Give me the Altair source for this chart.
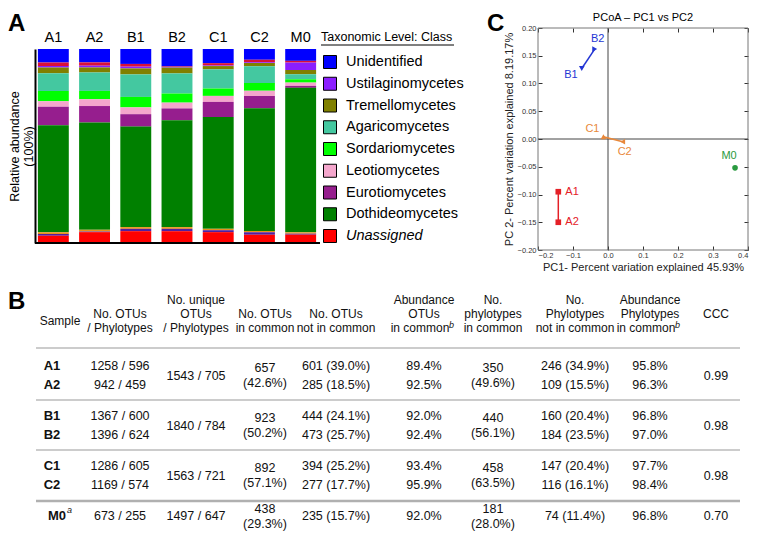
import altair as alt
import pandas as pd

FONT = "Liberation Sans"
W, H = 744, 524

# ---------------- Panel A: relative abundance per class (%) ----------------
samples = ["A1", "A2", "B1", "B2", "C1", "C2", "M0"]
classes = ["Unidentified", "Other (red)", "Ustilaginomycetes", "Tremellomycetes",
           "Agaricomycetes", "Sordariomycetes", "Leotiomycetes", "Eurotiomycetes",
           "Dothideomycetes", "Other (orange)", "Other (dark)", "Unassigned"]
class_colors = ["#0000FF", "#D8103A", "#8B1EFF", "#808000", "#44C8A0", "#00FF00",
                "#F4A6CC", "#961E8E", "#008000", "#E8901A", "#5020A0", "#FF0000"]
abund_A1 = [7.0, 1.8, 0.8, 2.9, 9.2, 5.2, 2.9, 9.6, 55.2, 0.9, 0.8, 3.8]
abund_A2 = [6.9, 1.7, 0.9, 2.6, 9.5, 4.3, 3.5, 8.5, 55.3, 0.9, 0.3, 5.6]
abund_B1 = [7.7, 1.4, 0.9, 3.1, 11.6, 5.4, 3.5, 6.4, 51.8, 0.9, 1.2, 6.1]
abund_B2 = [9.0, 0.3, 0.3, 3.0, 10.4, 4.7, 3.0, 6.1, 55.2, 0.9, 1.2, 6.1]
abund_C1 = [7.3, 1.2, 0.3, 1.7, 9.9, 3.8, 3.1, 7.8, 57.7, 0.7, 1.0, 5.6]
abund_C2 = [5.5, 1.4, 0.3, 1.7, 8.7, 4.0, 2.6, 6.4, 63.3, 0.7, 1.2, 4.3]
abund_M0 = [6.1, 0.9, 3.8, 2.2, 2.6, 1.7, 1.7, 1.0, 74.4, 0.7, 0.5, 4.3]
legend_classes = ["Unidentified", "Ustilaginomycetes", "Tremellomycetes", "Agaricomycetes",
                  "Sordariomycetes", "Leotiomycetes", "Eurotiomycetes", "Dothideomycetes",
                  "Unassigned"]
legend_title = "Taxonomic Level: Class"

# ---------------- Panel C: PCoA coordinates ----------------
pc_samples = ["A1", "A2", "B1", "B2", "C1", "C2", "M0"]
pc_group = ["A", "A", "B", "B", "C", "C", "M"]
pc1 = [-0.142, -0.142, -0.075, -0.038, -0.013, 0.042, 0.363]
pc2 = [-0.095, -0.150, 0.127, 0.162, 0.004, -0.005, -0.052]
pc_groups = ["A", "B", "C", "M"]
pc_group_colors = ["#E42027", "#2436D4", "#E8883A", "#2A9A40"]
pc_shapes = ["square", "square", "triangle-down", "triangle-right", "triangle-up", "triangle-left", "circle"]
pc_xticks = [-0.2, -0.1, 0.0, 0.1, 0.2, 0.3, 0.4]
pc_yticks = [-0.2, -0.15, -0.1, -0.05, 0.0, 0.05, 0.1, 0.15, 0.2]

# ---------------- Panel B: table ----------------
tbl_samples = ["A1", "A2", "B1", "B2", "C1", "C2", "M0"]
otus_phylo = ["1258 / 596", "942 / 459", "1367 / 600", "1396 / 624", "1286 / 605", "1169 / 574", "673 / 255"]
unique_otus_phylo = ["1543 / 705", "1840 / 784", "1563 / 721", "1497 / 647"]
otus_common = ["657\n(42.6%)", "923\n(50.2%)", "892\n(57.1%)", "438\n(29.3%)"]
otus_not_common = ["601 (39.0%)", "285 (18.5%)", "444 (24.1%)", "473 (25.7%)", "394 (25.2%)", "277 (17.7%)", "235 (15.7%)"]
abund_otus_common = ["89.4%", "92.5%", "92.0%", "92.4%", "93.4%", "95.9%", "92.0%"]
phylo_common = ["350\n(49.6%)", "440\n(56.1%)", "458\n(63.5%)", "181\n(28.0%)"]
phylo_not_common = ["246 (34.9%)", "109 (15.5%)", "160 (20.4%)", "184 (23.5%)", "147 (20.4%)", "116 (16.1%)", "74 (11.4%)"]
abund_phylo_common = ["95.8%", "96.3%", "96.8%", "97.0%", "97.7%", "98.4%", "96.8%"]
ccc = ["0.99", "0.98", "0.98", "0.70"]
header_lines = [
    (1, 1.5, "Sample"),
    (2, 1, "No. OTUs"), (2, 2, "/ Phylotypes"),
    (3, 0, "No. unique"), (3, 1, "OTUs"), (3, 2, "/ Phylotypes"),
    (4, 1, "No. OTUs"), (4, 2, "in common"),
    (5, 1, "No. OTUs"), (5, 2, "not in common"),
    (6, 0, "Abundance"), (6, 1, "OTUs"),
    (7, 0, "No."), (7, 1, "phylotypes"), (7, 2, "in common"),
    (8, 0, "No."), (8, 1, "Phylotypes"), (8, 2, "not in common"),
    (9, 0, "Abundance"), (9, 1, "Phylotypes"),
    (10, 1, "CCC"),
]
sup_b_cols = [6, 9]

# ---------------- layout (pixel positions, chart coordinates) ----------------
tbl_col_px = [28, 52, 112, 188, 257, 328, 416, 485, 567, 642, 708, 732]
tbl_slot_px = [292, 306, 320, 340, 358, 377, 392, 408, 427, 442, 458, 477, 493, 508]
row_slots = [4, 5, 7, 8, 10, 11, 13]
group_slots = [4.5, 7.5, 10.5, 13]
rule_slots_thin = [3, 6, 9]
rule_slots_thick = [12]

# =============== Panel A chart ===============
rows = []
abund_all = [abund_A1, abund_A2, abund_B1, abund_B2, abund_C1, abund_C2, abund_M0]
for s, vals in zip(samples, abund_all):
    for i, (c, v) in enumerate(zip(classes, vals)):
        rows.append({"sample": s, "cls": c, "value": v, "ord": len(classes) - 1 - i})
df_bars = pd.DataFrame(rows)

a_x = alt.X("sample:N", sort=samples,
            scale=alt.Scale(range=[27, 311], paddingInner=0.25, paddingOuter=0.07),
            axis=alt.Axis(orient="top", offset=-41, domain=False, ticks=False, labelPadding=5,
                          labelFontSize=14.5, labelAngle=0, labelColor="black", title=None, grid=False))
a_y = alt.Y("value:Q", stack="normalize",
            scale=alt.Scale(range=[235, 41], domain=[0, 1], nice=False),
            axis=alt.Axis(orient="left", offset=-27, domain=True, domainColor="black", domainWidth=2,
                          ticks=False, labels=False, grid=False,
                          title=["Relative abundance", "(100%)"], titleFontSize=12.5,
                          titleFontWeight="normal", titlePadding=0, titleLineHeight=13.5,
                          titleColor="black"))
bars = alt.Chart(df_bars).mark_bar().encode(
    x=a_x, y=a_y,
    color=alt.Color("cls:N", scale=alt.Scale(domain=classes, range=class_colors), legend=None),
    order=alt.Order("ord:Q", sort="ascending"),
)
bottom_line = alt.Chart(pd.DataFrame({"v": [0]})).mark_rule(color="black", strokeWidth=2).encode(
    y=alt.datum(0), x=alt.value(27), x2=alt.value(312)
)
panelA = alt.layer(bars, bottom_line)

# legend (manual)
leg_df = pd.DataFrame({"label": legend_classes, "i": list(range(len(legend_classes)))})
leg_y = alt.Y("i:Q", scale=alt.Scale(domain=[0, len(legend_classes) - 1], range=[54, 228], nice=False, zero=False), axis=None)
leg_sq = alt.Chart(leg_df).mark_square(size=169, stroke="black", strokeWidth=1, opacity=1).encode(
    x=alt.value(322), y=leg_y,
    color=alt.Color("label:N", scale=alt.Scale(domain=classes, range=class_colors), legend=None),
)
leg_txt = alt.Chart(leg_df).transform_filter("datum.label != 'Unassigned'").mark_text(
    align="left", baseline="middle", fontSize=14.5, color="black").encode(x=alt.value(338), y=leg_y, text="label:N")
leg_txt_it = alt.Chart(leg_df).transform_filter("datum.label == 'Unassigned'").mark_text(
    align="left", baseline="middle", fontSize=14.5, fontStyle="italic", color="black").encode(x=alt.value(338), y=leg_y, text="label:N")
leg_title = alt.Chart(pd.DataFrame({"t": [legend_title]})).mark_text(
    align="left", baseline="middle", fontSize=12.5, color="black").encode(x=alt.value(313), y=alt.value(29), text="t:N")
leg_under = alt.Chart(pd.DataFrame({"t": [legend_title]})).mark_rule(color="black", strokeWidth=1).encode(
    x=alt.value(313), x2=alt.value(446), y=alt.value(37))
legendA = alt.layer(leg_sq, leg_txt, leg_txt_it, leg_title, leg_under)

# =============== Panel C chart ===============
pc_df = pd.DataFrame({"sample": pc_samples, "group": pc_group, "pc1": pc1, "pc2": pc2})
pc_xscale = alt.Scale(domain=[-0.2, 0.4], range=[530, 740], nice=False, zero=False)
pc_yscale = alt.Scale(domain=[-0.2, 0.2], range=[242, 20], nice=False, zero=False)
pc_xaxis = alt.Axis(orient="bottom", offset=238 - H, values=pc_xticks, format=".1f", tickSize=4,
                    tickColor="#333", domain=False, grid=False, labelFontSize=7.5, labelColor="#333",
                    labelPadding=1, title="PC1- Percent variation explained 45.93%", titleFontSize=11,
                    titleFontWeight="normal", titleColor="#222", titlePadding=3)
pc_yaxis = alt.Axis(orient="left", offset=-534, values=pc_yticks, format=".2f", tickSize=4,
                    tickColor="#333", domain=False, grid=False, labelFontSize=7.5, labelColor="#333",
                    labelPadding=2, title="PC 2- Percent variation explained 8.19.17%", titleFontSize=11,
                    titleFontWeight="normal", titleColor="#222", titlePadding=3)
# mirrored inward ticks on the top and right edges (no labels)
pc_xaxis_top = alt.Axis(orient="top", offset=-24, values=pc_xticks, tickSize=4, tickColor="#333",
                        domain=False, grid=False, labels=False, title=None)
pc_yaxis_right = alt.Axis(orient="right", offset=736 - W, values=pc_yticks, tickSize=4, tickColor="#333",
                          domain=False, grid=False, labels=False, title=None)
frame_df = pd.DataFrame({"x1": [-0.2], "x2": [0.4], "y1": [-0.2], "y2": [0.2], "z": [0.0]})
frame = alt.Chart(frame_df).mark_rect(fillOpacity=0, stroke="#777", strokeWidth=1).encode(
    x=alt.X("x1:Q", scale=pc_xscale, axis=pc_xaxis), x2="x2:Q",
    y=alt.Y("y1:Q", scale=pc_yscale, axis=pc_yaxis), y2="y2:Q")
zero_v = alt.Chart(frame_df).mark_rule(color="#444", strokeWidth=1).encode(
    x=alt.X("z:Q", scale=pc_xscale, axis=pc_xaxis),
    y=alt.Y("y1:Q", scale=pc_yscale, axis=pc_yaxis), y2="y2:Q")
zero_h = alt.Chart(frame_df).mark_rule(color="#444", strokeWidth=1).encode(
    x=alt.X("x1:Q", scale=pc_xscale, axis=pc_xaxis), x2="x2:Q",
    y=alt.Y("z:Q", scale=pc_yscale, axis=pc_yaxis))
pc_color = alt.Color("group:N", scale=alt.Scale(domain=pc_groups, range=pc_group_colors), legend=None)
pc_x = alt.X("pc1:Q", scale=pc_xscale, axis=pc_xaxis)
pc_y = alt.Y("pc2:Q", scale=pc_yscale, axis=pc_yaxis)
pc_lines = alt.Chart(pc_df).mark_line(strokeWidth=1.5).encode(x=pc_x, y=pc_y, color=pc_color, detail="group:N")
pc_points = alt.Chart(pc_df).mark_point(filled=True, size=32, opacity=1).encode(
    x=pc_x, y=pc_y, color=pc_color,
    shape=alt.Shape("sample:N", scale=alt.Scale(domain=pc_samples, range=pc_shapes), legend=None))
label_style = {"A1": ("left", 7, 0), "A2": ("left", 7, 0), "B1": ("right", -4, 6),
               "B2": ("center", 3, -10), "C1": ("right", -4, -8), "C2": ("center", 2, 10),
               "M0": ("center", -6, -12)}
pc_labels = []
for s in pc_samples:
    al, dx, dy = label_style[s]
    pc_labels.append(
        alt.Chart(pc_df).transform_filter(alt.datum.sample == s).mark_text(
            align=al, baseline="middle", dx=dx, dy=dy, fontSize=11).encode(
            x=pc_x, y=pc_y, color=pc_color, text="sample:N"))
pc_title = alt.Chart(frame_df).mark_text(fontSize=11, color="black", baseline="middle").encode(
    x=alt.datum(0.1), y=alt.value(10), text=alt.value("PCoA \u2013 PC1 vs PC2"))
pc_main = alt.layer(frame, zero_v, zero_h, pc_lines, pc_points, *pc_labels, pc_title)
pc_ticks = alt.Chart(frame_df).mark_rule(opacity=0).encode(
    x=alt.X("x1:Q", scale=pc_xscale, axis=pc_xaxis_top),
    y=alt.Y("y1:Q", scale=pc_yscale, axis=pc_yaxis_right))
panelC = alt.layer(pc_main, pc_ticks).resolve_scale(x="independent", y="independent")

# =============== Panel B table ===============
t_xscale = alt.Scale(domain=list(range(len(tbl_col_px))), range=tbl_col_px, nice=False, zero=False)
t_yscale = alt.Scale(domain=list(range(len(tbl_slot_px))), range=tbl_slot_px, nice=False, zero=False)
TX = alt.X("col:Q", scale=t_xscale, axis=None)
TY = alt.Y("slot:Q", scale=t_yscale, axis=None)

hdr_df = pd.DataFrame(header_lines, columns=["col", "slot", "text"])
cell_rows = []
for r, sl in enumerate(row_slots):
    cell_rows += [(2, sl, otus_phylo[r]), (5, sl, otus_not_common[r]), (6, sl, abund_otus_common[r]),
                  (8, sl, phylo_not_common[r]), (9, sl, abund_phylo_common[r])]
for g, sl in enumerate(group_slots):
    cell_rows += [(3, sl, unique_otus_phylo[g]), (4, sl, otus_common[g]), (7, sl, phylo_common[g]), (10, sl, ccc[g])]
cell_df = pd.DataFrame(cell_rows, columns=["col", "slot", "text"])
samp_df = pd.DataFrame({"col": [1] * len(tbl_samples), "slot": row_slots, "text": tbl_samples})
supb_df = pd.DataFrame({"col": sup_b_cols, "slot": [2] * len(sup_b_cols), "text": ["in common"] * len(sup_b_cols), "b": ["b"] * len(sup_b_cols)})
rule_thin_df = pd.DataFrame({"col": [0] * len(rule_slots_thin), "col2": [len(tbl_col_px) - 1] * len(rule_slots_thin), "slot": rule_slots_thin})
rule_thick_df = pd.DataFrame({"col": [0] * len(rule_slots_thick), "col2": [len(tbl_col_px) - 1] * len(rule_slots_thick), "slot": rule_slots_thick})

t_hdr = alt.Chart(hdr_df).mark_text(fontSize=12, color="#111", baseline="middle").encode(x=TX, y=TY, text="text:N")
t_hdr3 = alt.Chart(supb_df).mark_text(fontSize=12, color="#111", baseline="middle", dx=-4).encode(x=TX, y=TY, text="text:N")
t_supb = alt.Chart(supb_df).mark_text(fontSize=9, fontStyle="italic", color="#111", align="left", dx=25, dy=-3).encode(x=TX, y=TY, text="b:N")
t_cells1 = alt.Chart(cell_df).transform_filter("indexof(datum.text, '\\n') < 0").mark_text(
    fontSize=12.5, color="#111", baseline="middle").encode(x=TX, y=TY, text="text:N")
t_cells2 = alt.Chart(cell_df).transform_filter("indexof(datum.text, '\\n') >= 0").mark_text(
    fontSize=12.5, color="#111", baseline="middle", lineBreak="\n", lineHeight=15, dy=-7.5).encode(x=TX, y=TY, text="text:N")
t_samp = alt.Chart(samp_df).transform_filter("datum.text != 'M0'").mark_text(fontSize=13, fontWeight="bold", color="#111", baseline="middle", dx=-8).encode(x=TX, y=TY, text="text:N")
t_samp_m0 = alt.Chart(samp_df).transform_filter("datum.text == 'M0'").mark_text(fontSize=13, fontWeight="bold", color="#111", baseline="middle", dx=-3).encode(x=TX, y=TY, text="text:N")
t_supa = alt.Chart(samp_df).transform_filter("datum.text == 'M0'").mark_text(fontSize=9, fontStyle="italic", color="#111", align="left", dx=7, dy=-6).encode(x=TX, y=TY, text=alt.value("a"))
t_rules = alt.Chart(rule_thin_df).mark_rule(color="#9a9a9a", strokeWidth=1.2).encode(x=TX, x2="col2:Q", y=TY)
t_rules2 = alt.Chart(rule_thick_df).mark_rule(color="#b0b0b0", strokeWidth=2.5).encode(x=TX, x2="col2:Q", y=TY)
table = alt.layer(t_rules, t_rules2, t_hdr, t_hdr3, t_supb, t_cells1, t_cells2, t_samp, t_samp_m0, t_supa)

# =============== panel letters ===============
letA = alt.Chart(pd.DataFrame({"t": ["A"]})).mark_text(fontSize=24, fontWeight="bold", align="left", baseline="middle").encode(x=alt.value(0), y=alt.value(16), text="t:N")
letB = alt.Chart(pd.DataFrame({"t": ["B"]})).mark_text(fontSize=24, fontWeight="bold", align="left", baseline="middle").encode(x=alt.value(0), y=alt.value(294), text="t:N")
letC = alt.Chart(pd.DataFrame({"t": ["C"]})).mark_text(fontSize=24, fontWeight="bold", align="left", baseline="middle").encode(x=alt.value(479), y=alt.value(16), text="t:N")
letters = alt.layer(letA, letB, letC)

chart = alt.layer(panelA, legendA, panelC, table, letters).resolve_scale(
    x="independent", y="independent", color="independent", shape="independent"
).properties(
    width=W, height=H, padding=0, autosize=alt.AutoSizeParams(type="none")
).configure(font=FONT).configure_view(strokeWidth=0)

chart.save("out.html", embed_options={"renderer": "svg", "actions": False})
